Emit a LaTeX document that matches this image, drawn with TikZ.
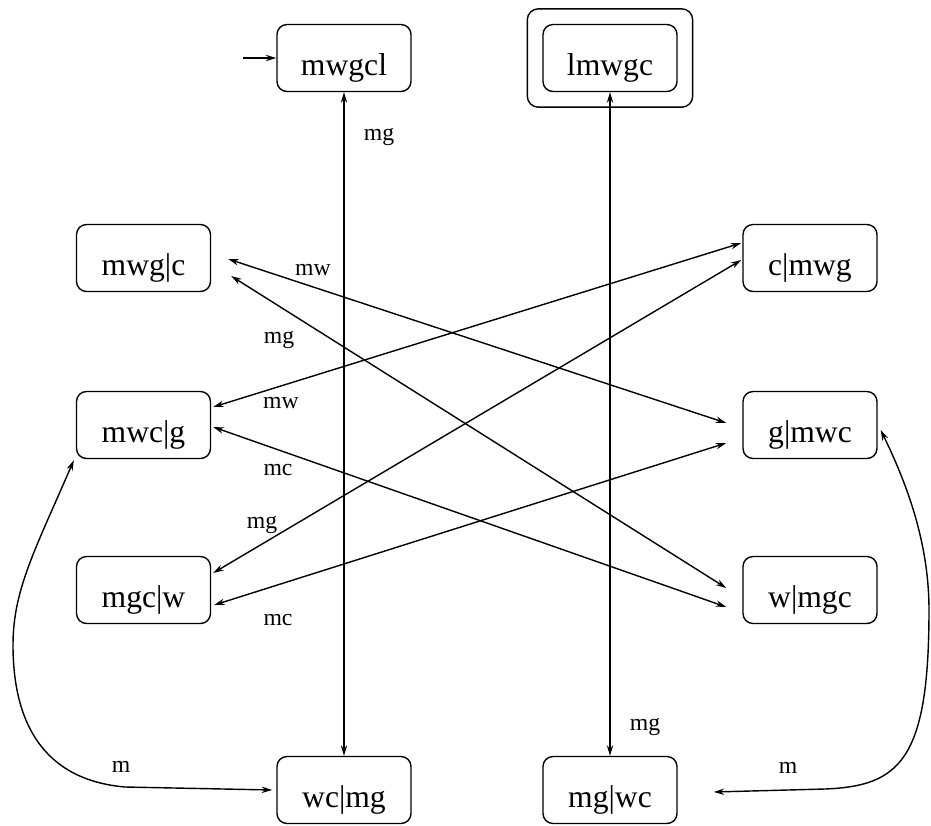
\documentclass[tikz,border=0pt]{standalone}
\usepackage{fontspec}
\setmainfont{Liberation Serif}
\usetikzlibrary{arrows.meta,calc,fit}

\begin{document}
\begin{tikzpicture}[x=0.02cm,y=-0.02cm,
		>={Stealth[length=6pt,width=3.6pt]},
		line width=0.8pt,
		state/.style={draw,rounded corners=0.2cm,minimum width=2.68cm,minimum height=1.34cm,
			font=\fontsize{18}{21}\selectfont,text height=20pt,text depth=0pt},
		accept/.style={draw,rounded corners=0.22cm,inner sep=0.3cm},
		lbl/.style={font=\fontsize{13.5}{16}\selectfont,anchor=base,inner sep=0pt}]
		\useasboundingbox (0,0) rectangle (931,826);
		% states
		\node [state] (mwgcl) at (344,58) {mwgcl};
		\node [state] (lmwgc) at (610,58) {lmwgc};
		\node [accept,fit=(lmwgc)] (lmwgc-acc) {};
		\node [state] (mwglc) at (143.5,258) {mwg|c};
		\node [state] (mwclg) at (143.5,425) {mwc|g};
		\node [state] (mgclw) at (143.5,590) {mgc|w};
		\node [state] (clmwg) at (810,258) {c|mwg};
		\node [state] (glmwc) at (810,425) {g|mwc};
		\node [state] (wlmgc) at (810,590) {w|mgc};
		\node [state] (wclmg) at (344,790) {wc|mg};
		\node [state] (mglwc) at (610,790) {mg|wc};
		% start arrow
		\coordinate (init) at (243,58);
		\draw [->] (init) -- (mwgcl);
		% vertical moves
		\draw [<->] (mwgcl) -- (wclmg);
		\draw [<->] (lmwgc) -- (mglwc);
		% crossing moves
		\draw [<->] ($(mwglc.east)+(17,1)$) -- ($(glmwc.west)+(-16,-2)$);
		\draw [<->] ($(mwglc.east)+(20,18)$) -- ($(wlmgc.west)+(-16,-2)$);
		\draw [<->] ($(mwclg.east)+(2,-18)$) -- ($(clmwg.west)+(-1,-15)$);
		\draw [<->] ($(mwclg.east)+(2,2)$) -- ($(wlmgc.west)+(-16,17)$);
		\draw [<->] ($(mgclw.east)+(2,-17)$) -- ($(clmwg.west)+(-1,2)$);
		\draw [<->] ($(mgclw.east)+(3,15)$) -- ($(glmwc.west)+(-16,18)$);
		% man alone
		\draw [<->] ($(mwclg.south west)+(-2,1)$) .. controls (35,550) and (13,590) .. (13,645)
			.. controls (13,725) and (45,780) .. (125,787) -- ($(wclmg.west)+(-4,0)$);
		\draw [<->] ($(glmwc.east)+(3,5)$) .. controls (905,480) and (929,540) .. (929,610)
			.. controls (929,760) and (900,786) .. (825,789) -- ($(mglwc.east)+(36,2)$);
		% labels
		\node [lbl] (t-mg1) at (379,140) {mg};
		\node [lbl] (t-mg2) at (645,730) {mg};
		\node [lbl] (t-mw1) at (313,275) {mw};
		\node [lbl] (t-mg3) at (279,343) {mg};
		\node [lbl] (t-mw2) at (281,408) {mw};
		\node [lbl] (t-mc1) at (278,475) {mc};
		\node [lbl] (t-mg4) at (262,528) {mg};
		\node [lbl] (t-mc2) at (278,625) {mc};
		\node [lbl] (t-m1) at (121,772) {m};
		\node [lbl] (t-m2) at (788,773) {m};
	\end{tikzpicture}
\end{document}
